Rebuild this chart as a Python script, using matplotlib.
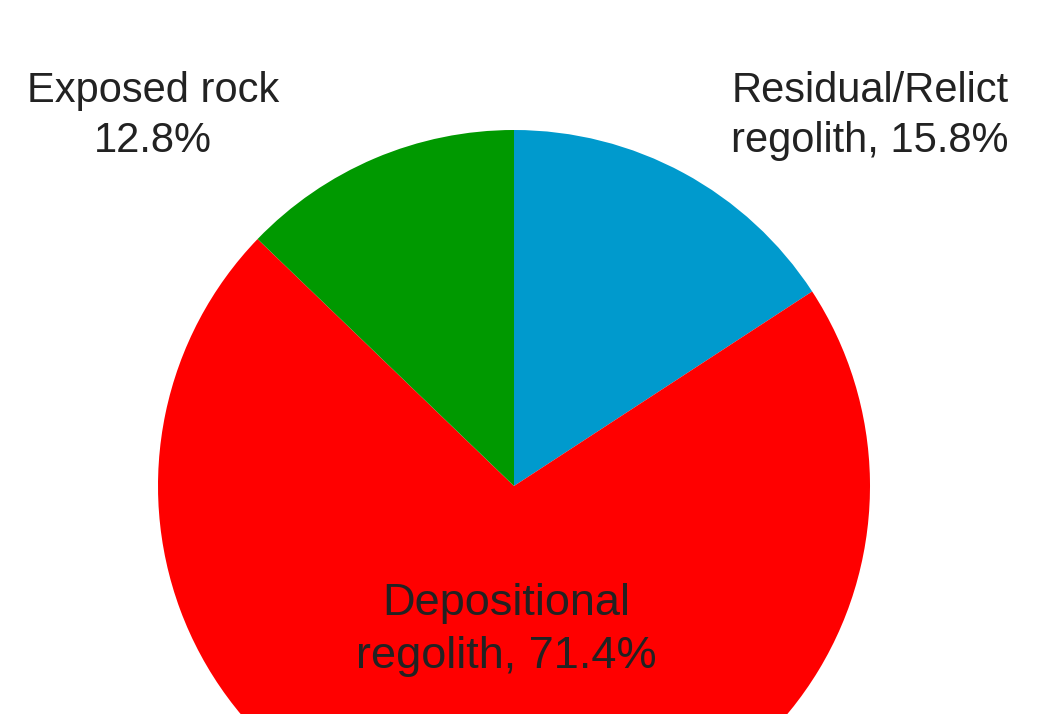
import matplotlib.pyplot as plt

# Datos del gráfico
categorias = ['Residual/Relict\nregolith', 'Depositional\nregolith', 'Exposed rock']
porcentajes = [15.8, 71.4, 12.8]
colores = ['#009ACD', '#FF0000', '#009900']

plt.rcParams['font.family'] = ['Liberation Sans', 'DejaVu Sans']

fig = plt.figure(figsize=(10.47, 7.14), dpi=100)
ax = fig.add_axes([0, 0, 1, 1])

# Pastel recortado por abajo, igual que en la referencia
ax.pie(porcentajes, colors=colores, startangle=90, counterclock=False,
       center=(514, 228), radius=356, frame=True,
       wedgeprops={'linewidth': 0})
ax.set_xlim(0, 1047)
ax.set_ylim(0, 714)
ax.set_aspect('equal')
ax.axis('off')

color_texto = '#222222'
ax.text(153, 598, f'{categorias[2]}\n{porcentajes[2]}%', ha='center', va='center',
        fontsize=30, color=color_texto, linespacing=1.35)
ax.text(870, 598, f'{categorias[0]}, {porcentajes[0]}%', ha='center', va='center',
        fontsize=30, color=color_texto, linespacing=1.35)
ax.text(506, 84, f'{categorias[1]}, {porcentajes[1]}%', ha='center', va='center',
        fontsize=32.5, color=color_texto, linespacing=1.35)

fig.savefig('out.png', dpi=100)
